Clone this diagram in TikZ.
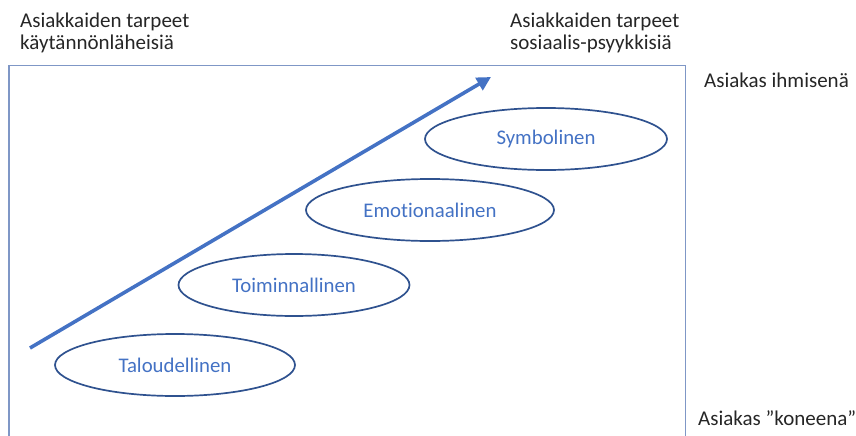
\documentclass[tikz,border=0pt]{standalone}
\usepackage{fontspec}
\setmainfont{Carlito}[Ligatures=NoCommon]
\usetikzlibrary{arrows.meta,shapes.geometric}
\definecolor{frameblue}{HTML}{7F97C6}
\definecolor{ringblue}{HTML}{2F528F}
\definecolor{accent}{HTML}{4472C4}
\tikzset{
  level/.style={ellipse, draw=ringblue, line width=1.7pt, minimum width=#1, minimum height=62pt,
    inner sep=0pt, text=accent, font=\fontsize{20.8}{24}\selectfont},
  caption/.style={anchor=base west, inner sep=0pt, font=\fontsize{21}{22}\selectfont, text=black!85},
}
\begin{document}
\begin{tikzpicture}[x=1pt,y=-1pt]
\useasboundingbox (0,0) rectangle (856,436);
% frame, open at the bottom
\draw[frameblue, line width=1.1pt] (9,440) -- (9,65.5) -- (685.5,65.5) -- (685.5,440);
% growth arrow
\coordinate (s) at (30,348);
\coordinate (e) at (491,77);
\draw[accent, line width=3.6pt, -{Triangle[length=14pt,width=14pt]}] (s) -- (e);
% service levels
\node[level=240pt] (tal) at (175,365) {Taloudellinen};
\node[level=231pt] (toi) at (294,285) {Toiminnallinen};
\node[level=248pt] (emo) at (430,210) {Emotionaalinen};
\node[level=242pt] (sym) at (546,139) {Symbolinen};
% captions
\node[caption] (tl1) at (20,28) {Asiakkaiden tarpeet};
\node[caption] (tl2) at (20,50) {käytännönläheisiä};
\node[caption] (tr1) at (510,28) {Asiakkaiden tarpeet};
\node[caption] (tr2) at (510,50) {sosiaalis-psyykkisiä};
\node[caption] (ih) at (704,87) {Asiakas ihmisenä};
\node[caption] (ko) at (698,425) {Asiakas ”koneena”};
\end{tikzpicture}
\end{document}
